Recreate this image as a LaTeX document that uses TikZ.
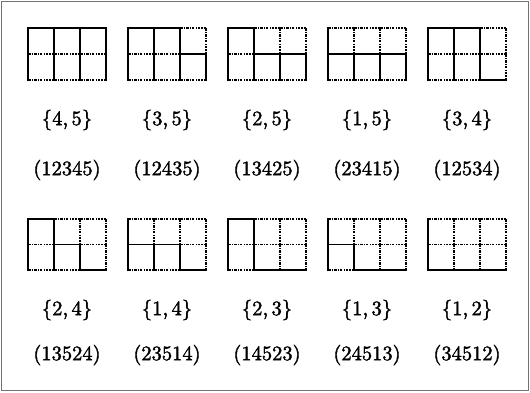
\documentclass[tikz,border=0pt]{standalone}
\usepackage{fontspec}
\newfontfamily\labfont{lmroman10-regular.otf}[FakeBold=1.8]
\tikzset{
  sl/.style={line width=1.7pt, line cap=rect},
  dt/.style={line width=1.5pt, dash pattern=on 2.6pt off 1.1pt on 1.1pt off 1.1pt},
  lab/.style={font=\labfont\fontsize{20.5}{22}\selectfont, inner sep=0pt},
  frame/.style={draw=black!55, line width=1pt}
}
\newcommand{\drawgrid}[7]{%
  \begin{scope}[shift={(#1)}]
    \foreach \st [count=\i from 0] in {#2} \draw[\st] (\i*26,0) -- ++(26,0);
    \foreach \st [count=\i from 0] in {#3} \draw[\st] (\i*26,#7) -- ++(26,0);
    \foreach \st [count=\i from 0] in {#4} \draw[\st] (\i*26,2*#7) -- ++(26,0);
    \foreach \st [count=\i from 0] in {#5} \draw[\st] (\i*26,0) -- ++(0,#7);
    \foreach \st [count=\i from 0] in {#6} \draw[\st] (\i*26,#7) -- ++(0,#7);
  \end{scope}}
\newcommand{\pr}[2]{\{#1,\,#2\}}
\begin{document}
\begin{tikzpicture}[x=1pt,y=-1pt]
\useasboundingbox (0,0) rectangle (530,392);
\draw[frame] (1.5,1.5) rectangle (528.5,390.5);
% grid origins
\coordinate (g1) at (28,28);
\coordinate (g2) at (128,28);
\coordinate (g3) at (228,28);
\coordinate (g4) at (328,28);
\coordinate (g5) at (428,28);
\coordinate (g6) at (28,219);
\coordinate (g7) at (128,219);
\coordinate (g8) at (228,219);
\coordinate (g9) at (328,219);
\coordinate (g10) at (428,219);
% top row
\drawgrid{g1}{sl,sl,sl}{dt,dt,dt}{dt,dt,dt}{sl,sl,sl,sl}{sl,sl,sl,sl}{26}
\drawgrid{g2}{sl,sl,dt}{dt,dt,sl}{dt,dt,dt}{sl,sl,sl,dt}{sl,sl,sl,sl}{26}
\drawgrid{g3}{sl,dt,dt}{dt,sl,sl}{dt,dt,dt}{sl,sl,dt,dt}{sl,sl,sl,sl}{26}
\drawgrid{g4}{dt,dt,dt}{sl,sl,sl}{dt,dt,dt}{sl,dt,dt,dt}{sl,sl,sl,sl}{26}
\drawgrid{g5}{sl,sl,dt}{dt,dt,dt}{dt,dt,sl}{sl,sl,sl,dt}{sl,sl,sl,dt}{26}
% bottom row
\drawgrid{g6}{sl,dt,dt}{dt,sl,dt}{dt,dt,sl}{sl,sl,dt,dt}{sl,sl,sl,dt}{25.5}
\drawgrid{g7}{dt,dt,dt}{sl,sl,dt}{dt,dt,sl}{sl,dt,dt,dt}{sl,sl,sl,dt}{25.5}
\drawgrid{g8}{sl,dt,dt}{dt,dt,dt}{dt,sl,sl}{sl,sl,dt,dt}{sl,sl,dt,dt}{25.5}
\drawgrid{g9}{dt,dt,dt}{sl,dt,dt}{dt,sl,sl}{sl,dt,dt,dt}{sl,sl,dt,dt}{25.5}
\drawgrid{g10}{dt,dt,dt}{dt,dt,dt}{sl,sl,sl}{sl,dt,dt,dt}{sl,dt,dt,dt}{25.5}
% labels
\node[lab] (s1) at (67,120) {\pr{4}{5}};
\node[lab] (s2) at (167,120) {\pr{3}{5}};
\node[lab] (s3) at (267,120) {\pr{2}{5}};
\node[lab] (s4) at (367,120) {\pr{1}{5}};
\node[lab] (s5) at (467,120) {\pr{3}{4}};
\node[lab] (p1) at (67,170) {(12345)};
\node[lab] (p2) at (167,170) {(12435)};
\node[lab] (p3) at (267,170) {(13425)};
\node[lab] (p4) at (367,170) {(23415)};
\node[lab] (p5) at (467,170) {(12534)};
\node[lab] (s6) at (67,310) {\pr{2}{4}};
\node[lab] (s7) at (167,310) {\pr{1}{4}};
\node[lab] (s8) at (267,310) {\pr{2}{3}};
\node[lab] (s9) at (367,310) {\pr{1}{3}};
\node[lab] (s10) at (467,310) {\pr{1}{2}};
\node[lab] (p6) at (67,355) {(13524)};
\node[lab] (p7) at (167,355) {(23514)};
\node[lab] (p8) at (267,355) {(14523)};
\node[lab] (p9) at (367,355) {(24513)};
\node[lab] (p10) at (467,355) {(34512)};
\end{tikzpicture}
\end{document}
